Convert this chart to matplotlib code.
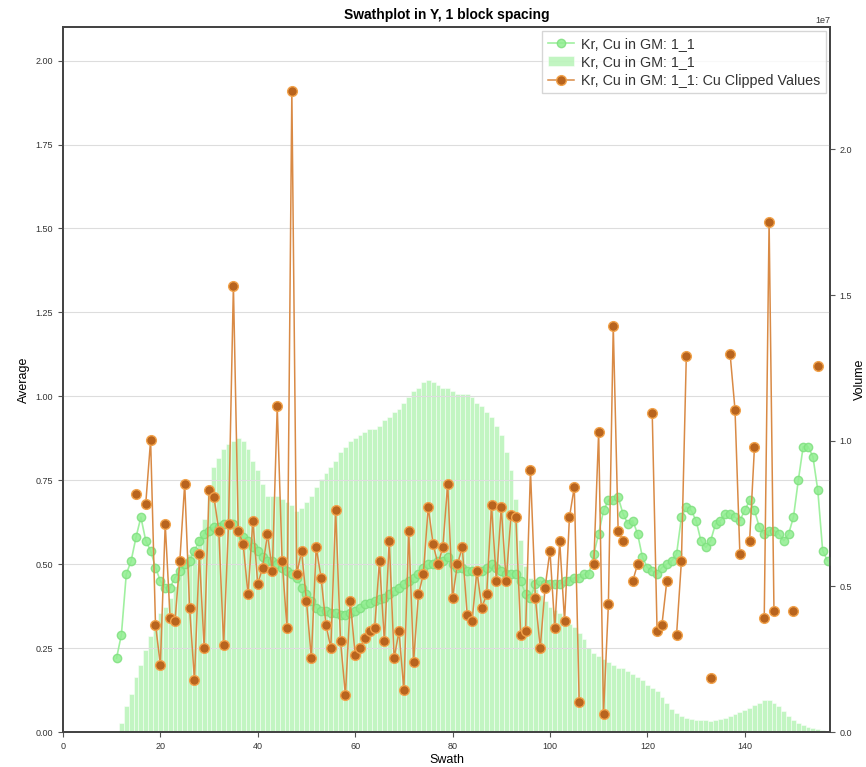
import matplotlib
matplotlib.use("Agg")
import matplotlib.pyplot as plt
import numpy as np

plt.rcParams["font.family"] = ["Liberation Sans", "DejaVu Sans"]

nan = np.nan

# swath positions 11..157
swath = np.arange(11, 158)

# average grade per swath (green line)
average = [
    0.22, 0.29, 0.47, 0.51, 0.58, 0.64, 0.57, 0.54, 0.49,             # 11-19
    0.45, 0.43, 0.43, 0.46, 0.48, 0.50, 0.51, 0.54, 0.57, 0.59,       # 20-29
    0.60, 0.61, 0.61, 0.62, 0.62, 0.62, 0.60, 0.58, 0.57, 0.55,       # 30-39
    0.54, 0.52, 0.51, 0.51, 0.50, 0.49, 0.48, 0.47, 0.46, 0.43,       # 40-49
    0.41, 0.39, 0.37, 0.36, 0.36, 0.355, 0.355, 0.35, 0.35, 0.355,    # 50-59
    0.36, 0.37, 0.38, 0.385, 0.39, 0.395, 0.40, 0.41, 0.42, 0.43,     # 60-69
    0.44, 0.45, 0.46, 0.47, 0.49, 0.50, 0.50, 0.51, 0.51, 0.52,       # 70-79
    0.50, 0.49, 0.49, 0.48, 0.48, 0.48, 0.48, 0.49, 0.50, 0.49,       # 80-89
    0.48, 0.47, 0.47, 0.47, 0.45, 0.41, 0.40, 0.44, 0.45, 0.44,       # 90-99
    0.44, 0.44, 0.44, 0.45, 0.45, 0.46, 0.46, 0.47, 0.47, 0.53,       # 100-109
    0.59, 0.66, 0.69, 0.69, 0.70, 0.65, 0.62, 0.63, 0.59, 0.52,       # 110-119
    0.49, 0.48, 0.47, 0.49, 0.50, 0.51, 0.53, 0.64, 0.67, 0.66,       # 120-129
    0.63, 0.57, 0.55, 0.57, 0.62, 0.63, 0.65, 0.65, 0.64, 0.63,       # 130-139
    0.66, 0.69, 0.66, 0.61, 0.59, 0.60, 0.60, 0.59, 0.57, 0.59,       # 140-149
    0.64, 0.75, 0.85, 0.85, 0.82, 0.72, 0.54, 0.51,                   # 150-157
]

# block volume per swath, units of 1e7 (green bars, right axis)
volume = [
    0.0, 0.03, 0.09, 0.13, 0.19, 0.23, 0.28, 0.33, 0.38,              # 11-19
    0.41, 0.43, 0.46, 0.50, 0.54, 0.58, 0.61, 0.63, 0.67, 0.73,       # 20-29
    0.83, 0.91, 0.94, 0.97, 0.99, 1.00, 1.01, 1.00, 0.97, 0.93,       # 30-39
    0.90, 0.85, 0.81, 0.81, 0.81, 0.80, 0.79, 0.78, 0.76, 0.77,       # 40-49
    0.79, 0.81, 0.84, 0.87, 0.89, 0.91, 0.93, 0.96, 0.98, 1.00,       # 50-59
    1.01, 1.02, 1.03, 1.04, 1.04, 1.05, 1.07, 1.08, 1.10, 1.11,       # 60-69
    1.13, 1.15, 1.17, 1.18, 1.20, 1.21, 1.20, 1.19, 1.18, 1.18,       # 70-79
    1.17, 1.16, 1.16, 1.16, 1.15, 1.13, 1.12, 1.10, 1.08, 1.05,       # 80-89
    1.02, 0.96, 0.90, 0.80, 0.66, 0.57, 0.53, 0.49, 0.47, 0.45,       # 90-99
    0.43, 0.42, 0.41, 0.39, 0.37, 0.36, 0.34, 0.32, 0.29, 0.27,       # 100-109
    0.26, 0.25, 0.24, 0.23, 0.22, 0.22, 0.21, 0.20, 0.19, 0.18,       # 110-119
    0.16, 0.15, 0.14, 0.12, 0.10, 0.08, 0.065, 0.055, 0.048, 0.045,   # 120-129
    0.041, 0.041, 0.041, 0.038, 0.041, 0.045, 0.048, 0.055, 0.062, 0.069,  # 130-139
    0.076, 0.082, 0.093, 0.10, 0.11, 0.11, 0.10, 0.09, 0.072, 0.055,  # 140-149
    0.041, 0.031, 0.024, 0.017, 0.014, 0.010, 0.007, 0.003,           # 150-157
]

# clipped Cu values (orange line), nan where no value
clipped = [
    nan, nan, nan, nan, 0.71, nan, 0.68, 0.87, 0.32,                  # 11-19
    0.20, 0.62, 0.34, 0.33, 0.51, 0.74, 0.37, 0.155, 0.53, 0.25,      # 20-29
    0.72, 0.70, 0.60, 0.26, 0.62, 1.33, 0.60, 0.56, 0.41, 0.63,       # 30-39
    0.44, 0.49, 0.59, 0.48, 0.97, 0.51, 0.31, 1.91, 0.47, 0.54,       # 40-49
    0.39, 0.22, 0.55, 0.46, 0.32, 0.25, 0.66, 0.27, 0.11, 0.39,       # 50-59
    0.23, 0.25, 0.28, 0.30, 0.31, 0.51, 0.27, 0.57, 0.22, 0.30,       # 60-69
    0.125, 0.60, 0.21, 0.41, 0.47, 0.67, 0.56, 0.50, 0.55, 0.74,      # 70-79
    0.40, 0.50, 0.55, 0.35, 0.33, 0.48, 0.37, 0.41, 0.675, 0.45,      # 80-89
    0.67, 0.45, 0.645, 0.64, 0.29, 0.30, 0.78, 0.40, 0.25, 0.43,      # 90-99
    0.54, 0.31, 0.57, 0.33, 0.64, 0.73, 0.09, nan, nan, 0.50,         # 100-109
    0.895, 0.055, 0.38, 1.21, 0.60, 0.57, nan, 0.45, 0.50, nan,       # 110-119
    nan, 0.95, 0.30, 0.32, 0.45, nan, 0.29, 0.51, 1.12, nan,          # 120-129
    nan, nan, nan, 0.16, nan, nan, nan, 1.125, 0.96, 0.53,            # 130-139
    nan, 0.57, 0.85, nan, 0.34, 1.52, 0.36, nan, nan, nan,            # 140-149
    0.36, nan, nan, nan, nan, 1.09, nan, nan,                         # 150-157
]

label = "Kr, Cu in GM: 1_1"

fig = plt.figure(figsize=(8.66, 7.67), dpi=100)
ax1 = fig.add_axes([0.0727, 0.0456, 0.8857, 0.9192])
ax2 = ax1.twinx()

# volume bars on the secondary axis, behind everything
bars = ax2.bar(swath, np.array(volume) * 1e7, width=1.0, color="#90ee90",
               alpha=0.55, edgecolor="white", linewidth=0.6, label=label)
ax2.set_ylim(0, 2.42e7)
ax2.set_ylabel("Volume", fontsize=9, labelpad=1)

ax1.set_zorder(10)
ax2.set_zorder(1)
ax1.patch.set_visible(False)

avg_line, = ax1.plot(swath, average, color="#90ee90", marker="o", markersize=6,
                     linewidth=1.2, alpha=0.85, markeredgecolor="#7fe07f",
                     label=label)
clip_line, = ax1.plot(swath, clipped, color="#d98a45", marker="o", markersize=7,
                      linewidth=1.1, markerfacecolor="#b8641e",
                      markeredgecolor="#f2a24a", markeredgewidth=1.0,
                      label=label + ": Cu Clipped Values")

ax1.set_xlim(0, 157.5)
ax1.set_ylim(0, 2.1)
ax1.set_yticks(np.arange(0, 2.01, 0.25))
ax1.set_xticks(np.arange(0, 141, 20))
ax1.grid(axis="y", color="#dddddd", linewidth=0.8)
ax1.set_axisbelow(True)

ax1.set_title("Swathplot in Y, 1 block spacing", fontsize=10, fontweight="bold")
ax1.set_xlabel("Swath", fontsize=9, labelpad=2)
ax1.set_ylabel("Average", fontsize=9)

for ax in (ax1, ax2):
    ax.tick_params(labelsize=6.5, color="#555555", labelcolor="#333333")
    for sp in ax.spines.values():
        sp.set_color("#444444")
        sp.set_linewidth(1.3)
ax2.yaxis.get_offset_text().set_fontsize(6.5)

handles = [avg_line, bars, clip_line]
ax1.legend(handles=handles, labels=[h.get_label() for h in handles],
           loc="upper right", fontsize=10.3, edgecolor="#cccccc", fancybox=False,
           borderaxespad=0.3, handlelength=1.8, handletextpad=0.5,
           labelspacing=0.3, labelcolor="#333333")

plt.savefig("out.png", dpi=100)
